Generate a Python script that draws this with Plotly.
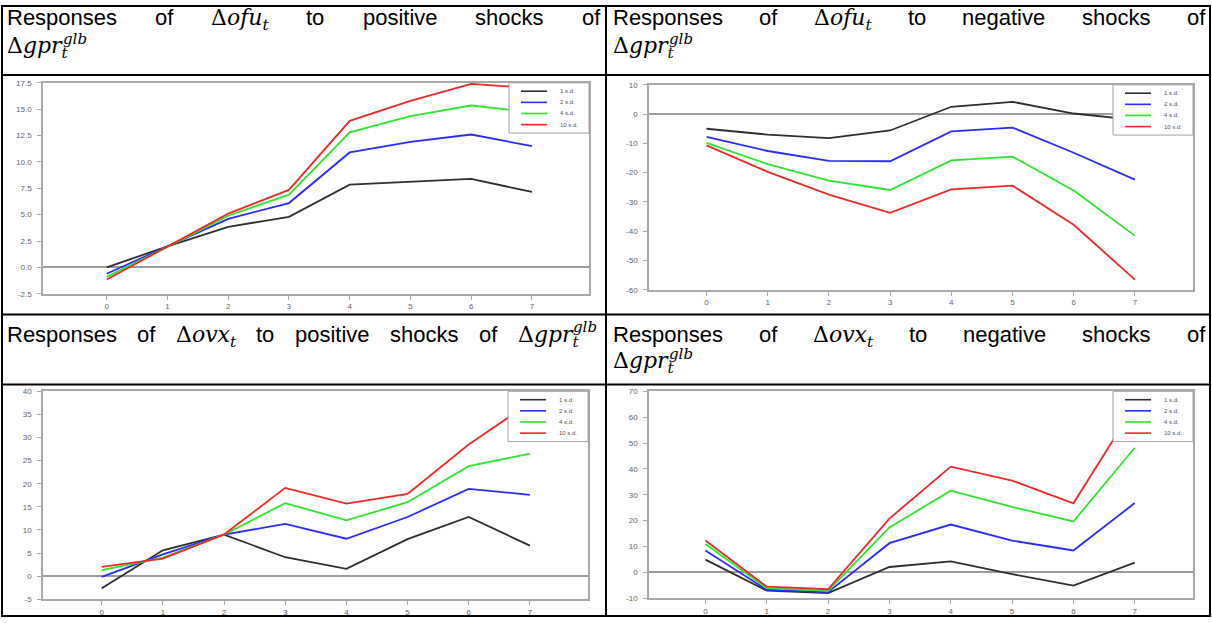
import plotly.graph_objects as go

# ---------------- data ----------------
horizons = [0, 1, 2, 3, 4, 5, 6, 7]
x_tick_labels = ["0", "1", "2", "3", "4", "5", "6", "7"]
shock_labels = ["1 s.d.", "2 s.d.", "4 s.d.", "10 s.d."]

# Responses of d(ofu) to positive shocks of d(gpr_glb)
ofu_pos_1sd = [0.0, 2.0, 3.85, 4.8, 7.85, 8.1, 8.4, 7.15]
ofu_pos_2sd = [-0.6, 2.0, 4.6, 6.1, 10.9, 11.9, 12.6, 11.5]
ofu_pos_4sd = [-0.9, 1.95, 4.9, 6.9, 12.8, 14.35, 15.35, 14.7]
ofu_pos_10sd = [-1.15, 1.95, 5.1, 7.35, 13.9, 15.8, 17.4, 17.0]

# Responses of d(ofu) to negative shocks of d(gpr_glb)
ofu_neg_1sd = [-5.0, -7.0, -8.2, -5.6, 2.5, 4.2, 0.2, -2.0]
ofu_neg_2sd = [-7.8, -12.6, -16.0, -16.1, -5.9, -4.6, -13.2, -22.4]
ofu_neg_4sd = [-9.8, -17.1, -22.7, -25.9, -15.8, -14.5, -26.1, -41.5]
ofu_neg_10sd = [-10.7, -19.7, -27.5, -33.7, -25.7, -24.4, -37.8, -56.5]

# Responses of d(ovx) to positive shocks of d(gpr_glb)
ovx_pos_1sd = [-2.6, 5.6, 9.0, 4.1, 1.6, 8.0, 12.8, 6.6]
ovx_pos_2sd = [-0.15, 4.7, 9.0, 11.3, 8.1, 12.8, 18.9, 17.6]
ovx_pos_4sd = [1.3, 4.0, 9.0, 15.8, 12.1, 16.0, 23.8, 26.5]
ovx_pos_10sd = [2.0, 3.8, 9.0, 19.1, 15.7, 17.8, 28.5, 37.5]

# Responses of d(ovx) to negative shocks of d(gpr_glb)
ovx_neg_1sd = [4.95, -7.0, -8.0, 2.1, 4.3, -0.65, -5.1, 3.8]
ovx_neg_2sd = [8.5, -6.7, -7.6, 11.3, 18.5, 12.3, 8.5, 26.8]
ovx_neg_4sd = [11.0, -6.1, -7.1, 17.4, 31.6, 25.3, 19.7, 48.2]
ovx_neg_10sd = [12.3, -5.5, -6.5, 20.8, 40.9, 35.5, 26.7, 64.4]

ofu_pos_ticks = [-2.5, 0.0, 2.5, 5.0, 7.5, 10.0, 12.5, 15.0, 17.5]
ofu_neg_ticks = [-60, -50, -40, -30, -20, -10, 0, 10]
ovx_pos_ticks = [-5, 0, 5, 10, 15, 20, 25, 30, 35, 40]
ovx_neg_ticks = [-10, 0, 10, 20, 30, 40, 50, 60, 70]

# header texts: ("t", word) plain, ("m", upright, italic, sub, sup) math
hdr_ofu_pos = [("t", "Responses"), ("t", "of"), ("m", "Δ", "ofu", "t", None), ("t", "to"),
               ("t", "positive"), ("t", "shocks"), ("t", "of")]
hdr_ofu_neg = [("t", "Responses"), ("t", "of"), ("m", "Δ", "ofu", "t", None), ("t", "to"),
               ("t", "negative"), ("t", "shocks"), ("t", "of")]
hdr_ovx_pos = [("t", "Responses"), ("t", "of"), ("m", "Δ", "ovx", "t", None), ("t", "to"),
               ("t", "positive"), ("t", "shocks"), ("t", "of"), ("m", "Δ", "gpr", "t", "glb")]
hdr_ovx_neg = [("t", "Responses"), ("t", "of"), ("m", "Δ", "ovx", "t", None), ("t", "to"),
               ("t", "negative"), ("t", "shocks"), ("t", "of")]
hdr_gpr = [("m", "Δ", "gpr", "t", "glb")]

# ---------------- layout helpers ----------------
W, H = 1212, 623
SANS = "Liberation Sans, Arial, sans-serif"
SERIF = "Cambria Math, DejaVu Serif, serif"
TS = 22
MS = 22
COLORS = ["#2e2e2e", "#2b2bff", "#2ee62e", "#f02828"]

AW = {"R": .722, "e": .556, "s": .5, "p": .556, "o": .556, "n": .556, "f": .278, "t": .278,
      "i": .222, "v": .5, "h": .556, "c": .5, "k": .5, "g": .556, "a": .556, " ": .278}
SW = {"Δ": .72, "o": .60, "f": .35, "u": .64, "v": .56, "x": .56, "g": .64, "p": .64,
      "r": .48, "t": .40, "l": .32, "b": .64}


def px(x):
    return x / W


def py(y):
    return 1 - y / H


fig = go.Figure()


def ann(x, baseline, text, family, size, asc):
    fig.add_annotation(x=px(x), y=py(baseline - asc * size), xref="paper", yref="paper",
                       text=text, showarrow=False, xanchor="left", yanchor="top",
                       font=dict(family=family, size=size, color="black"),
                       borderpad=0, borderwidth=0)


def base_width(it):
    return (SW.get(it[1], .7) + sum(SW.get(c, .6) for c in it[2])) * MS


def item_width(it):
    if it[0] == "t":
        return sum(AW.get(c, .556) for c in it[1]) * TS
    tail = 0
    if it[3]:
        tail = max(tail, sum(SW.get(c, .6) for c in it[3]) * MS * 0.7)
    if it[4]:
        tail = max(tail, sum(SW.get(c, .6) for c in it[4]) * MS * 0.7)
    return base_width(it) + tail


def draw_item(it, x, baseline):
    if it[0] == "t":
        ann(x, baseline, it[1], SANS, TS, 0.905)
        return
    txt = it[1] + "<i>" + it[2] + "</i>"
    if it[3]:
        txt += "<sub><i>" + it[3] + "</i></sub>"
    ann(x, baseline, txt, SERIF, MS, 0.93)
    if it[4]:
        ann(x + base_width(it) + 1, baseline - 10, "<i>" + it[4] + "</i>", SERIF, 15, 0.93)


def header_line(items, xL, xR, baseline, justify):
    widths = [item_width(it) for it in items]
    if justify and len(items) > 1:
        gap = (xR - xL - sum(widths)) / (len(items) - 1)
    else:
        gap = AW[" "] * TS
    x = xL
    for it, w in zip(items, widths):
        draw_item(it, x, baseline)
        x += w + gap


header_line(hdr_ofu_pos, 7, 600, 21, True)
header_line(hdr_gpr, 7, 600, 50, False)
header_line(hdr_ofu_neg, 613, 1205, 21, True)
header_line(hdr_gpr, 613, 1205, 50, False)
header_line(hdr_ovx_pos, 7, 597, 343, True)
header_line(hdr_ovx_neg, 613, 1205, 343, True)
header_line(hdr_gpr, 613, 1205, 370, False)

# ---------------- panels ----------------
panels = [
    dict(series=[ofu_pos_1sd, ofu_pos_2sd, ofu_pos_4sd, ofu_pos_10sd], ticks=ofu_pos_ticks,
         fmt="{:.1f}", x0=43, x1=589, y0=80, y1=294, xr=[-1.05, 7.94]),
    dict(series=[ofu_neg_1sd, ofu_neg_2sd, ofu_neg_4sd, ofu_neg_10sd], ticks=ofu_neg_ticks,
         fmt="{:d}", x0=649, x1=1193, y0=82, y1=290, xr=[-0.94, 7.95]),
    dict(series=[ovx_pos_1sd, ovx_pos_2sd, ovx_pos_4sd, ovx_pos_10sd], ticks=ovx_pos_ticks,
         fmt="{:d}", x0=43, x1=588, y0=393, y1=604, xr=[-0.96, 7.95]),
    dict(series=[ovx_neg_1sd, ovx_neg_2sd, ovx_neg_4sd, ovx_neg_10sd], ticks=ovx_neg_ticks,
         fmt="{:d}", x0=649, x1=1193, y0=393, y1=603, xr=[-0.92, 7.95]),
]

AXIS_GRAY = "#a8a8a8"
TICK_FONT = dict(family=SANS, size=8, color="#666666")

for i, p in enumerate(panels):
    sfx = "" if i == 0 else str(i + 1)
    for name, vals, col in zip(shock_labels, p["series"], COLORS):
        fig.add_trace(go.Scatter(x=horizons, y=vals, mode="lines", name=name,
                                 line=dict(color=col, width=1.8), showlegend=False,
                                 xaxis="x" + sfx, yaxis="y" + sfx, hoverinfo="skip"))
    fig.layout["xaxis" + sfx] = dict(
        domain=[px(p["x0"]), px(p["x1"])], range=p["xr"], anchor="y" + sfx,
        tickmode="array", tickvals=horizons, ticktext=x_tick_labels,
        ticks="outside", ticklen=4, tickwidth=1, tickcolor=AXIS_GRAY,
        showline=True, linecolor=AXIS_GRAY, linewidth=1.5, mirror=True,
        showgrid=False, zeroline=False, tickfont=TICK_FONT, fixedrange=True)
    t = p["ticks"]
    fig.layout["yaxis" + sfx] = dict(
        domain=[py(p["y1"]), py(p["y0"])], range=[t[0], t[-1]], anchor="x" + sfx,
        tickmode="array", tickvals=t, ticktext=[p["fmt"].format(v) for v in t],
        ticks="outside", ticklen=4, tickwidth=1, tickcolor=AXIS_GRAY,
        showline=True, linecolor=AXIS_GRAY, linewidth=1.5, mirror=True,
        showgrid=False, zeroline=True, zerolinecolor="#9c9c9c", zerolinewidth=1.5,
        tickfont=TICK_FONT, ticklabelstandoff=4, fixedrange=True)

    # legend box (top-right inside plot)
    R, T = p["x1"], p["y0"]
    fig.add_shape(type="rect", xref="paper", yref="paper", x0=px(R - 80), x1=px(R),
                  y0=py(T + 51), y1=py(T), line=dict(color="#a0a0a0", width=1),
                  fillcolor="white", layer="above")
    for k, (name, col) in enumerate(zip(shock_labels, COLORS)):
        yy = T + 8.5 + 11.3 * k
        fig.add_shape(type="line", xref="paper", yref="paper", x0=px(R - 68), x1=px(R - 42),
                      y0=py(yy), y1=py(yy), line=dict(color=col, width=1.6), layer="above")
        fig.add_annotation(x=px(R - 31), y=py(yy), xref="paper", yref="paper", text=name,
                           showarrow=False, xanchor="left", yanchor="middle",
                           font=dict(family=SANS, size=6, color="#555555"))

# ---------------- table borders ----------------
BL = dict(color="black", width=2)
fig.add_shape(type="rect", xref="paper", yref="paper", x0=px(2), x1=px(1210), y0=py(621), y1=py(2),
              line=BL, layer="above")
fig.add_shape(type="line", xref="paper", yref="paper", x0=px(606), x1=px(606), y0=py(621), y1=py(2),
              line=BL, layer="above")
for yb in [72, 315, 386]:
    fig.add_shape(type="line", xref="paper", yref="paper", x0=px(2), x1=px(1210), y0=py(yb), y1=py(yb),
                  line=BL, layer="above")

fig.update_layout(width=W, height=H, margin=dict(l=0, r=0, t=0, b=0),
                  paper_bgcolor="white", plot_bgcolor="white", showlegend=False)

fig.write_html("out.html", config={"displayModeBar": False},
               post_script="document.body.style.margin='0';document.body.style.overflow='hidden';")
